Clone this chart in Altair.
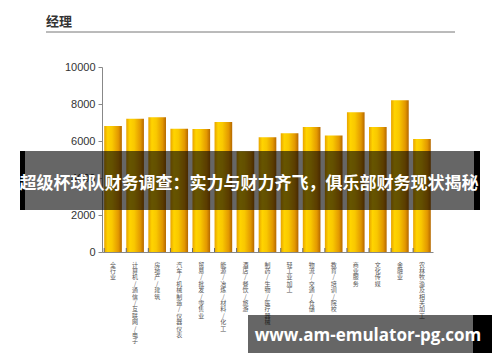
import altair as alt
import pandas as pd

categories = ["全行业", "计算机/通信/互联网/电子", "房地产/建筑", "汽车/机械制造/仪器仪表",
              "贸易/批发/零售业", "能源/冶炼/材料/化工", "酒店/餐饮/旅游", "制药/生物/医疗器械",
              "轻工业加工", "物流/交通/仓储", "教育/培训/院校", "商业服务", "文化传媒",
              "金融业", "农林牧渔及相关加工"]
values = [6810, 7200, 7290, 6660, 6650, 7030, 5450, 6200, 6420, 6760, 6300, 7550, 6760, 8200, 6110]
y_ticks = [0, 2000, 4000, 6000, 8000, 10000]

title_text = "经理"
banner_text = "超级杯球队财务调查：实力与财力齐飞，俱乐部财务现状揭秘"
watermark_text = "www.am-emulator-pg.com"

df = pd.DataFrame({"cat": categories, "val": values})

W, H = 331, 185
x_axis = alt.Axis(title=None, labelAngle=0, labelExpr="split(datum.label, '')",
                  labelFontSize=6, labelLineHeight=6.4, labelColor="#555",
                  labelFont="Noto Sans CJK SC", labelBaseline="top", labelPadding=9,
                  ticks=False, domainColor="#888", labelLimit=0)
x_scale = alt.Scale(paddingInner=0.2, paddingOuter=0.1)
xs = alt.X("cat:N", sort=categories, scale=x_scale, axis=x_axis)
ys = alt.Y("val:Q", scale=alt.Scale(domain=[0, 10000]),
           axis=alt.Axis(title=None, values=y_ticks, format="d", labelOverlap=False,
                         grid=False, tickSize=4, tickColor="#888",
                         domainColor="#888", labelFontSize=11, labelColor="#333",
                         labelFont="Liberation Sans", labelPadding=3))

grad = alt.Gradient(gradient="linear",
                    stops=[alt.GradientStop(color="#E8A400", offset=0),
                           alt.GradientStop(color="#FFD400", offset=0.2),
                           alt.GradientStop(color="#F9C800", offset=0.45),
                           alt.GradientStop(color="#E39800", offset=0.8),
                           alt.GradientStop(color="#B56800", offset=1)],
                    x1=0, x2=1, y1=0, y2=0)

bars = alt.Chart(df).mark_bar(color=grad).encode(x=xs, y=ys)

ticks = alt.Chart(df).mark_rule(color="#666", strokeWidth=1).encode(
    x=alt.X("cat:N", sort=categories, scale=x_scale, axis=x_axis, bandPosition=0),
    y=alt.value(H), y2=alt.value(H - 4))

one = pd.DataFrame({"t": [title_text]})
title = alt.Chart(one).mark_text(align="left", baseline="middle", fontSize=13, fontWeight="bold",
                                 color="#333", font="Noto Sans CJK SC").encode(
    x=alt.value(-56), y=alt.value(-45), text="t:N")
title_line = alt.Chart(one).mark_rule(color="#777", strokeWidth=1).encode(
    x=alt.value(-56), x2=alt.value(353), y=alt.value(-35))

banner_bg = alt.Chart(one).mark_rect(color="black", opacity=0.6).encode(
    x=alt.value(-77), x2=alt.value(372), y=alt.value(84), y2=alt.value(143))
banner_l = alt.Chart(one).mark_rect(color="black").encode(
    x=alt.value(-82), x2=alt.value(-77), y=alt.value(84), y2=alt.value(143))
banner_r = alt.Chart(one).mark_rect(color="black").encode(
    x=alt.value(372), x2=alt.value(378), y=alt.value(84), y2=alt.value(143))
banner = alt.Chart(pd.DataFrame({"t": [banner_text]})).mark_text(
    align="center", baseline="middle", fontSize=17, fontWeight="bold", color="white",
    font="Noto Sans CJK SC").encode(x=alt.value(147), y=alt.value(117), text="t:N")

wm_bg = alt.Chart(one).mark_rect(color="black", opacity=0.6).encode(
    x=alt.value(146), x2=alt.value(371), y=alt.value(248), y2=alt.value(286))
wm_r = alt.Chart(one).mark_rect(color="black").encode(
    x=alt.value(371), x2=alt.value(390), y=alt.value(248), y2=alt.value(286))
wm = alt.Chart(pd.DataFrame({"t": [watermark_text]})).mark_text(
    align="center", baseline="middle", fontSize=17, fontWeight="bold", color="white",
    font="Open Sans").encode(x=alt.value(266), y=alt.value(269), text="t:N")

chart = alt.layer(bars, ticks, title, title_line, banner_bg, banner_l, banner_r, banner,
                  wm_bg, wm_r, wm).properties(
    width=W, height=H,
    padding={"left": 102, "top": 67, "right": 67, "bottom": 110},
    autosize=alt.AutoSizeParams(type="none"),
    background="white",
).configure_view(stroke=None)

chart.save("out.html", embed_options={"renderer": "svg", "actions": False})
